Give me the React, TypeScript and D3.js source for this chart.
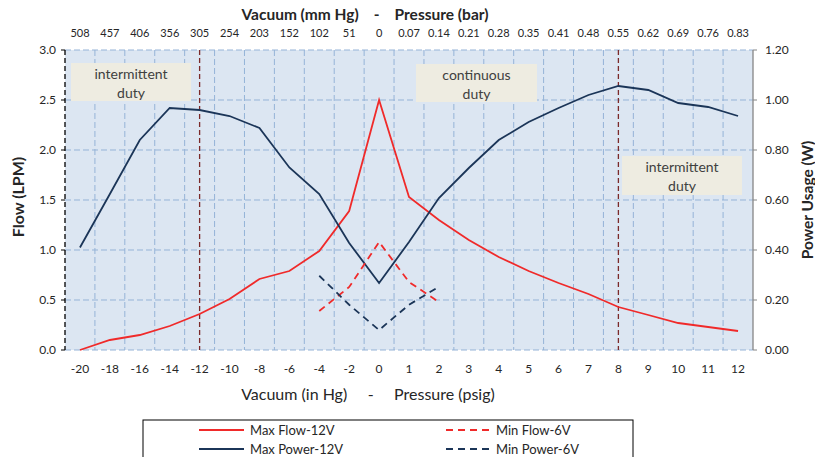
import React from "react";
import * as d3 from "d3";

const categories = ["-20","-18","-16","-14","-12","-10","-8","-6","-4","-2","0","1","2","3","4","5","6","7","8","9","10","11","12"];
const topLabels = ["508","457","406","356","305","254","203","152","102","51","0","0.07","0.14","0.21","0.28","0.35","0.41","0.48","0.55","0.62","0.69","0.76","0.83"];
const maxFlow12V = [0.0,0.10,0.15,0.24,0.36,0.51,0.71,0.79,0.99,1.39,2.50,1.53,1.30,1.10,0.93,0.79,0.67,0.56,0.43,0.35,0.27,0.23,0.19];
const maxPower12V = [0.41,0.624,0.84,0.968,0.96,0.936,0.888,0.73,0.624,0.428,0.268,0.432,0.608,0.728,0.84,0.912,0.968,1.02,1.056,1.04,0.988,0.972,0.936];
const minFlow6V: (number | null)[] = [null,null,null,null,null,null,null,null,0.39,0.63,1.08,0.68,0.48,null,null,null,null,null,null,null,null,null,null];
const minPower6V: (number | null)[] = [null,null,null,null,null,null,null,null,0.297,0.181,0.08,0.181,0.253,null,null,null,null,null,null,null,null,null,null];
const flowTicks = [0,0.5,1.0,1.5,2.0,2.5,3.0];
const powerTicks = [0,0.2,0.4,0.6,0.8,1.0,1.2];
const dutyLines = ["-12","8"];

const FONT = "Lato, 'Open Sans', sans-serif";
const RED = "#F02A2A";
const NAVY = "#1B3558";
const GRID = "#95B3D7";

export default function App() {
  const L = 65, R = 753, T = 50, B = 350;
  const x = d3.scaleBand<string>().domain(categories).range([L, R]).padding(0);
  const cx = (c: string) => (x(c) as number) + x.bandwidth() / 2;
  const yF = d3.scaleLinear().domain([0, 3]).range([B, T]);
  const yP = d3.scaleLinear().domain([0, 1.2]).range([B, T]);

  const lineF = d3.line<number | null>()
    .defined((d) => d !== null)
    .x((_, i) => cx(categories[i]))
    .y((d) => yF(d as number));
  const lineP = d3.line<number | null>()
    .defined((d) => d !== null)
    .x((_, i) => cx(categories[i]))
    .y((d) => yP(d as number));

  const box = (x0: number, y0: number, w: number, h: number, lines: string[], key: string) => (
    <g key={key}>
      <rect x={x0} y={y0} width={w} height={h} fill="#EEECE1" />
      {lines.map((t, i) => (
        <text key={i} x={x0 + w / 2} y={y0 + 16 + i * 19} textAnchor="middle" fontSize={14} fill="#404040" fontFamily={FONT}>{t}</text>
      ))}
    </g>
  );

  return (
    <svg width={815} height={457} style={{ position: "absolute", left: 0, top: 0 }}>
      <rect x={0} y={0} width={815} height={457} fill="#fff" />
      <text x={365} y={20} textAnchor="middle" fontSize={15.5} fontWeight="bold" fill="#262626" fontFamily={FONT} style={{ whiteSpace: "pre" }}>
        {"Vacuum (mm Hg)    -    Pressure (bar)"}
      </text>
      {categories.map((c, i) => (
        <text key={"tl" + c} x={cx(c)} y={37} textAnchor="middle" fontSize={11} fill="#262626" fontFamily={FONT}>{topLabels[i]}</text>
      ))}
      <rect x={L} y={T} width={R - L} height={B - T} fill="#DCE6F2" />
      {flowTicks.map((t) => (
        <line key={"hg" + t} x1={L} x2={R} y1={yF(t)} y2={yF(t)} stroke={GRID} strokeWidth={1} strokeDasharray="6,3" />
      ))}
      {categories.slice(1).map((c) => (
        <line key={"vg" + c} x1={x(c) as number} x2={x(c) as number} y1={T} y2={B} stroke={GRID} strokeWidth={1} strokeDasharray="6,3" />
      ))}
      {box(71, 63, 120, 38, ["intermittent", "duty"], "b1")}
      {box(416, 64, 121, 38, ["continuous", "duty"], "b2")}
      {box(622, 156, 120, 39, ["intermittent", "duty"], "b3")}
      {dutyLines.map((c) => (
        <line key={"dl" + c} x1={cx(c)} x2={cx(c)} y1={T} y2={B} stroke="#7B2A2A" strokeWidth={1.3} strokeDasharray="5,3" />
      ))}
      <line x1={L} x2={L} y1={T} y2={B} stroke="#000" strokeWidth={1.3} strokeDasharray="5,3" />
      {flowTicks.map((t) => (
        <g key={"lt" + t}>
          <line x1={L - 4} x2={L} y1={yF(t)} y2={yF(t)} stroke="#000" strokeWidth={1} />
          <text x={56} y={yF(t) + 4} textAnchor="end" fontSize={12} fill="#262626" fontFamily={FONT}>{t.toFixed(1)}</text>
        </g>
      ))}
      <line x1={R} x2={R} y1={T} y2={B} stroke="#868686" strokeWidth={1.3} />
      {powerTicks.map((t) => (
        <g key={"rt" + t}>
          <line x1={R} x2={R + 4} y1={yP(t)} y2={yP(t)} stroke="#868686" strokeWidth={1} />
          <text x={765} y={yP(t) + 4} textAnchor="start" fontSize={12} fill="#262626" fontFamily={FONT}>{t.toFixed(2)}</text>
        </g>
      ))}
      <path d={lineF(maxFlow12V) || ""} fill="none" stroke={RED} strokeWidth={1.8} />
      <path d={lineP(maxPower12V) || ""} fill="none" stroke={NAVY} strokeWidth={1.8} />
      <path d={lineF(minFlow6V) || ""} fill="none" stroke={RED} strokeWidth={1.8} strokeDasharray="7,5" />
      <path d={lineP(minPower6V) || ""} fill="none" stroke={NAVY} strokeWidth={1.8} strokeDasharray="7,5" />
      {categories.map((c) => (
        <text key={"bl" + c} x={cx(c)} y={373} textAnchor="middle" fontSize={12} fill="#262626" fontFamily={FONT}>{c}</text>
      ))}
      <text x={368} y={400} textAnchor="middle" fontSize={16} fill="#262626" fontFamily={FONT} style={{ whiteSpace: "pre" }}>
        {"Vacuum (in Hg)     -     Pressure (psig)"}
      </text>
      <text transform="translate(24,197) rotate(-90)" textAnchor="middle" fontSize={16} fontWeight="bold" fill="#262626" fontFamily={FONT}>Flow (LPM)</text>
      <text transform="translate(813,200) rotate(-90)" textAnchor="middle" fontSize={15.5} fontWeight="bold" fill="#262626" fontFamily={FONT}>Power Usage (W)</text>
      <rect x={143} y={420} width={490} height={50} fill="#fff" stroke="#000" strokeWidth={1} />
      <line x1={199} x2={244} y1={430} y2={430} stroke={RED} strokeWidth={1.8} />
      <text x={250} y={434.5} fontSize={13} fill="#262626" fontFamily={FONT}>Max Flow-12V</text>
      <line x1={446} x2={489} y1={430} y2={430} stroke={RED} strokeWidth={1.8} strokeDasharray="7,5" />
      <text x={496} y={434.5} fontSize={13} fill="#262626" fontFamily={FONT}>Min Flow-6V</text>
      <line x1={199} x2={244} y1={449} y2={449} stroke={NAVY} strokeWidth={1.8} />
      <text x={250} y={453.5} fontSize={13} fill="#262626" fontFamily={FONT}>Max Power-12V</text>
      <line x1={446} x2={489} y1={449} y2={449} stroke={NAVY} strokeWidth={1.8} strokeDasharray="7,5" />
      <text x={496} y={453.5} fontSize={13} fill="#262626" fontFamily={FONT}>Min Power-6V</text>
    </svg>
  );
}
